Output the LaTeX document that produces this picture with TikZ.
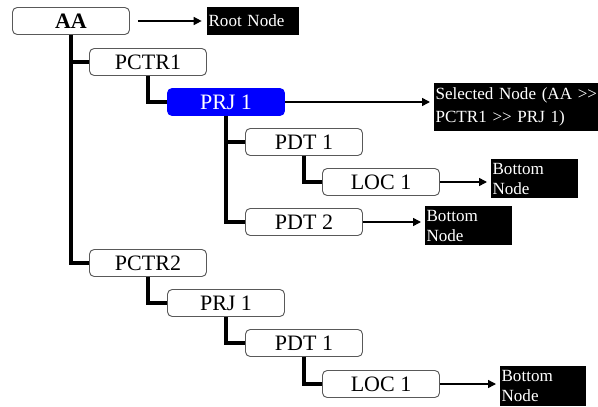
\documentclass[tikz,border=0pt]{standalone}
\usepackage{fontspec}
\setmainfont{Liberation Serif}
\usepackage{tikz}
\usetikzlibrary{positioning,arrows.meta}

\begin{document}
\begin{tikzpicture}[
  x=0.75pt, y=-0.75pt,
  font=\fontsize{16.5}{18}\selectfont,
  link/.style={line width=3pt, draw=black, line join=miter},
  line/.style={-{Triangle[length=6pt,width=6pt]}, line width=1.1pt, draw=black},
  box/.style={rounded corners=3.5pt, draw=black!65, fill=white, line width=0.7pt, minimum width=87.75pt, minimum height=20.25pt, inner sep=0pt},
  sel/.style={box, draw=blue, fill=blue, text=white},
  tag/.style={fill=black, text=white, anchor=west, align=left, inner sep=1pt, font=\fontsize{12.8}{15}\selectfont}
]
\useasboundingbox (0,0) rectangle (598,406);

% Tree
\node[box] (aa) at (71,21) {\textbf{AA}};
\node[box] (pctrA) at (148,62) {PCTR1};
\node[sel] (prjA) at (226,102) {PRJ 1};
\node[box] (pdtA) at (304,142) {PDT 1};
\node[box] (locA) at (381,182) {LOC 1};
\node[box] (pdtB) at (304,222) {PDT 2};
\node[box] (pctrB) at (148,263) {PCTR2};
\node[box] (prjB) at (226,303) {PRJ 1};
\node[box] (pdtC) at (304,343) {PDT 1};
\node[box] (locB) at (381,384) {LOC 1};

% Labels
\node[tag, text width=67pt, minimum height=21pt] (rootlbl) at (207,21) {Root Node};
\node[tag, text width=121pt, minimum height=36pt, font=\fontsize{12.8}{17}\selectfont] (sellbl) at (434,107) {\mbox{Selected Node (AA >\kern0pt>}\\PCTR1 >\kern0pt> PRJ 1)};
\node[tag, text width=63pt, minimum height=29pt] (botA) at (491,178.5) {Bottom\\Node};
\node[tag, text width=63pt, minimum height=29pt] (botB) at (425,225.5) {Bottom\\Node};
\node[tag, text width=62pt, minimum height=30pt] (botC) at (500,386) {Bottom\\Node};

% Tree links
\draw[link] (aa.south) |- (pctrA.west);
\draw[link] (aa.south) |- (pctrB.west);
\draw[link] (pctrA.south) |- (prjA.west);
\draw[link] (prjA.south) |- (pdtA.west);
\draw[link] (prjA.south) |- (pdtB.west);
\draw[link] (pdtA.south) |- (locA.west);
\draw[link] (pctrB.south) |- (prjB.west);
\draw[link] (prjB.south) |- (pdtC.west);
\draw[link] (pdtC.south) |- (locB.west);

% Label arrows
\draw[line, shorten <=6pt, shorten >=4pt] (aa.east) -- (aa.east -| rootlbl.west);
\draw[line, shorten >=3pt] (prjA.east) -- (prjA.east -| sellbl.west);
\draw[line, shorten >=3pt] (locA.east) -- (locA.east -| botA.west);
\draw[line, shorten >=3pt] (pdtB.east) -- (pdtB.east -| botB.west);
\draw[line, shorten >=3pt] (locB.east) -- (locB.east -| botC.west);
\end{tikzpicture}
\end{document}
